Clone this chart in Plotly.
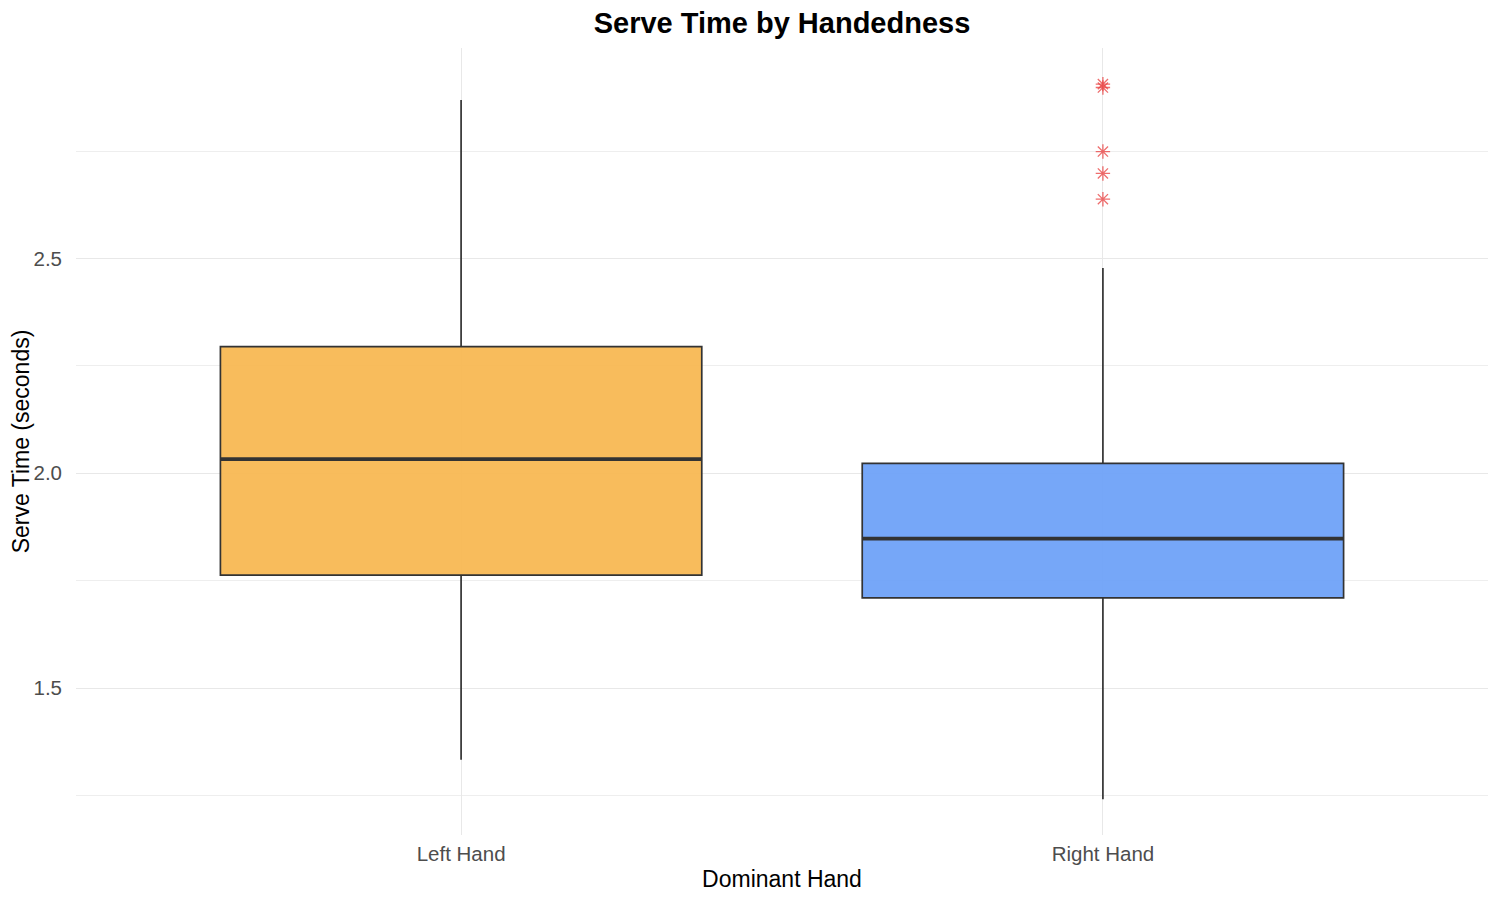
import plotly.graph_objects as go

# summary stats (seconds)
hands = ["Left Hand", "Right Hand"]
q1 = [1.763, 1.710]
median = [2.033, 1.848]
q3 = [2.295, 2.023]
lower_whisker = [1.333, 1.241]
upper_whisker = [2.869, 2.478]

outlier_hand = ["Right Hand", "Right Hand", "Right Hand", "Right Hand", "Right Hand"]
outlier_time = [2.906, 2.898, 2.749, 2.698, 2.638]

fills = ["rgba(247,183,80,0.93)", "rgba(108,160,247,0.93)"]
box_w = 0.75

fig = go.Figure()

for i, hand in enumerate(hands):
    fig.add_trace(go.Box(
        x=[i], q1=[q1[i]], median=[median[i]], q3=[q3[i]],
        lowerfence=[lower_whisker[i]], upperfence=[upper_whisker[i]],
        width=box_w, whiskerwidth=0,
        fillcolor=fills[i],
        line=dict(color="#333333", width=1.7),
        name=hand, showlegend=False, hoverinfo="skip",
    ))
    # thicker median bar like ggplot
    fig.add_trace(go.Scatter(
        x=[i - box_w / 2, i + box_w / 2], y=[median[i], median[i]],
        mode="lines", line=dict(color="#333333", width=3.8),
        showlegend=False, hoverinfo="skip",
    ))

fig.add_trace(go.Scatter(
    x=[hands.index(h) for h in outlier_hand], y=outlier_time,
    mode="markers",
    marker=dict(symbol="asterisk-open", size=12, color="rgba(232,60,60,0.75)",
                line=dict(color="rgba(232,60,60,0.75)", width=1.3)),
    showlegend=False,
))

fig.update_layout(
    width=1500, height=900,
    paper_bgcolor="white", plot_bgcolor="white",
    margin=dict(l=68, r=20, t=40, b=73, autoexpand=False),
    font=dict(family="Liberation Sans, Arial, sans-serif"),
    title=dict(text="<b>Serve Time by Handedness</b>", x=0.516, xanchor="center",
               y=0.984, yanchor="middle", font=dict(size=29, color="black")),
)

fig.update_xaxes(
    tickmode="array", tickvals=[0, 1], ticktext=hands,
    range=[-0.6, 1.6], showgrid=True, gridcolor="#E8E8E8", gridwidth=1.4,
    zeroline=False, showline=False, ticks="", automargin=False,
    tickfont=dict(size=20.5, color="#4D4D4D"), ticklabelstandoff=4,
    title=dict(text="Dominant Hand", font=dict(size=23, color="black"), standoff=7),
)
fig.update_yaxes(
    range=[1.158, 2.99], tickvals=[1.5, 2.0, 2.5], ticktext=["1.5", "2.0", "2.5"],
    showgrid=True, gridcolor="#E8E8E8", gridwidth=1.4,
    minor=dict(tickvals=[1.25, 1.75, 2.25, 2.75], showgrid=True,
               gridcolor="#EEEEEE", gridwidth=0.9),
    zeroline=False, showline=False, ticks="", automargin=False,
    tickfont=dict(size=20.5, color="#4D4D4D"), ticklabelstandoff=13,
    title=dict(text="Serve Time (seconds)", font=dict(size=23, color="black"), standoff=6),
)

fig.write_html("out.html")
